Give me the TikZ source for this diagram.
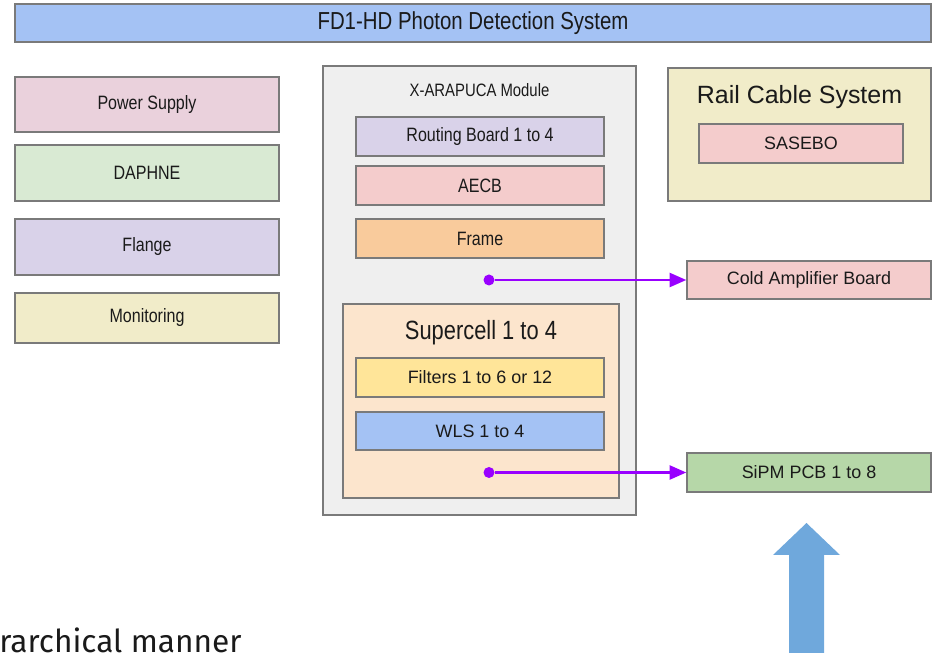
\documentclass[tikz,border=0pt]{standalone}
\usepackage{fontspec}
\setmainfont{Liberation Sans}
\newfontfamily\narrowfont[FakeStretch=0.83]{Liberation Sans}
\newfontfamily\slidefont{Fira Sans}
\usepackage{xcolor}
\usetikzlibrary{arrows.meta,positioning}

\definecolor{boxgray}{HTML}{7A7A7A}
\definecolor{pdsblue}{HTML}{A4C2F4}
\definecolor{pdspink}{HTML}{EAD1DC}
\definecolor{pdsgreen}{HTML}{D9EAD3}
\definecolor{pdslilac}{HTML}{D9D2E9}
\definecolor{pdscream}{HTML}{F1ECC9}
\definecolor{pdsgrey}{HTML}{EFEFEF}
\definecolor{pdsrose}{HTML}{F4CCCC}
\definecolor{pdsorange}{HTML}{F9CB9C}
\definecolor{pdspeach}{HTML}{FCE5CD}
\definecolor{pdsyellow}{HTML}{FFE599}
\definecolor{pdssipm}{HTML}{B6D7A8}
\definecolor{pdspurple}{HTML}{9900FF}
\definecolor{bigblue}{HTML}{6FA8DC}
\definecolor{textdark}{HTML}{1A1A1A}

\begin{document}
\begin{tikzpicture}[
        every node/.style={font=\narrowfont\fontsize{11}{13}\selectfont, text=textdark},
        block/.style={draw=boxgray, line width=0.8pt, inner sep=0pt,
              minimum height=0.78cm, minimum width=4.96cm},
        plain/.style={font=\fontsize{10.2}{12}\selectfont},
        feed/.style={-{Triangle[length=9.5pt,width=8pt]}, draw=pdspurple, line width=1.3pt},
        dot/.style={circle, fill=pdspurple, inner sep=0pt, minimum size=0.22cm},
    ]
        \useasboundingbox (0,0) rectangle (18.64,-13.06);

        % Title bar
        \node[block, fill=pdsblue, minimum width=18.32cm, minimum height=0.76cm,
              font=\narrowfont\fontsize{14}{16}\selectfont] (pds) at (9.46,-0.46)
              {FD1-HD Photon Detection System};

        % Left column
        \node[block, fill=pdspink, minimum width=5.28cm, minimum height=1.10cm] (power) at (2.94,-2.09) {Power Supply};
        \node[block, fill=pdsgreen, minimum width=5.28cm, minimum height=1.12cm] (daphne) at (2.94,-3.46) {DAPHNE};
        \node[block, fill=pdslilac, minimum width=5.28cm, minimum height=1.12cm] (flange) at (2.94,-4.94) {Flange};
        \node[block, fill=pdscream, minimum width=5.28cm, minimum height=1.00cm] (monitor) at (2.94,-6.36) {Monitoring};

        % X-ARAPUCA module
        \node[block, fill=pdsgrey, minimum width=6.26cm, minimum height=8.98cm] (module) at (9.59,-5.81) {};
        \node[font=\narrowfont\fontsize{10.2}{12}\selectfont] (moduletitle) at (9.59,-1.80) {X-ARAPUCA Module};
        \node[block, fill=pdslilac] (routing) at (9.60,-2.73) {Routing Board 1 to 4};
        \node[block, fill=pdsrose] (aecb) at (9.60,-3.71) {AECB};
        \node[block, fill=pdsorange] (frame) at (9.60,-4.77) {Frame};

        % Supercell
        \node[block, fill=pdspeach, minimum width=5.52cm, minimum height=3.88cm] (cell) at (9.62,-8.02) {};
        \node[font=\narrowfont\fontsize{15}{17}\selectfont] (celltitle) at (9.62,-6.66) {Supercell 1 to 4};
        \node[block, fill=pdsyellow, plain] (filters) at (9.60,-7.55) {Filters 1 to 6 or 12};
        \node[block, fill=pdsblue, plain, minimum height=0.76cm] (wls) at (9.60,-8.62) {WLS 1 to 4};

        % Rail cable system
        \node[block, fill=pdscream, minimum width=5.26cm, minimum height=2.66cm] (rail) at (15.99,-2.69) {};
        \node[font=\fontsize{14.2}{16}\selectfont] (railtitle) at (15.99,-1.94) {Rail Cable System};
        \node[block, fill=pdsrose, plain, minimum width=4.08cm] (sasebo) at (16.02,-2.87) {SASEBO};

        % Right column
        \node[block, fill=pdsrose, plain, minimum width=4.88cm, minimum height=0.76cm] (cold) at (16.18,-5.60) {Cold Amplifier Board};
        \node[block, fill=pdssipm, plain, minimum width=4.88cm] (sipm) at (16.18,-9.45) {SiPM PCB 1 to 8};

        % Connections
        \node[dot] (src1) at (9.78,-5.60) {};
        \node[dot] (src2) at (9.78,-9.45) {};
        \draw[feed] (src1) -- (cold.west);
        \draw[feed] (src2) -- (sipm.west);

        % Big arrow
        \fill[bigblue] (15.78,-13.3) -- (15.78,-11.10) -- (15.46,-11.10) -- (16.13,-10.46)
              -- (16.80,-11.10) -- (16.48,-11.10) -- (16.48,-13.3) -- cycle;

        % Cut-off slide text
        \node[font=\slidefont\fontsize{18}{20}\selectfont, anchor=base west, inner sep=0pt] (caption)
              at (-0.02,-13.06) {rarchical manner};
    \end{tikzpicture}
\end{document}
